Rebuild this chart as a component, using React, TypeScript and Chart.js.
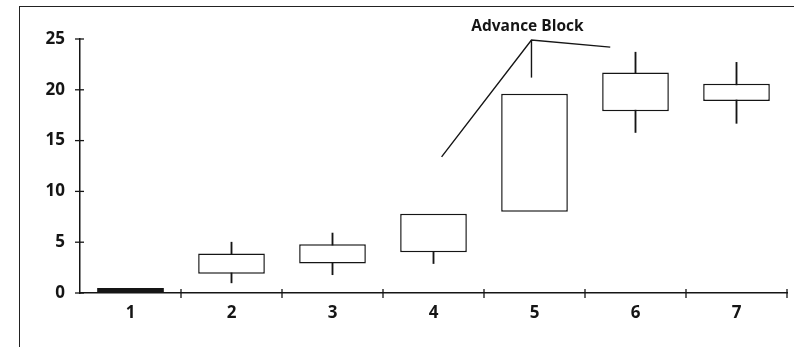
import React, { useEffect, useRef } from "react";
import { Chart, registerables } from "chart.js";

Chart.register(...registerables);

const categories = ["1", "2", "3", "4", "5", "6", "7"];
const boxLow = [0, 1.9, 2.9, 4.0, 8.0, 17.9, 18.9];
const boxHigh = [0, 3.9, 4.8, 7.8, 19.6, 21.7, 20.6];
const whiskerLow: (number | null)[] = [null, 1.0, 1.8, 2.9, null, 15.8, 16.7];
const whiskerHigh: (number | null)[] = [null, 5.0, 5.9, 4.0, null, 23.7, 22.7];
const yTicks = [0, 5, 10, 15, 20, 25];

const annotationText = "Advance Block";
const annotationTextPos = { x: 3.93, y: 26.2 };
const annotationLineX = [3.08, 3.97, 4.75];
const annotationLineY = [13.4, 24.9, 24.2];
const pointerX = [3.97, 3.97];
const pointerY = [24.9, 21.2];

const INK = "#151515";
const FONT = "'Open Sans', 'DejaVu Sans', sans-serif";

const decorPlugin = {
  id: "decor",
  afterDraw(chart: any) {
    const ctx = chart.ctx;
    const xs = chart.scales.x;
    const ys = chart.scales.y;
    ctx.save();
    ctx.strokeStyle = INK;
    ctx.lineWidth = 1.3;
    const ax = xs.left;
    yTicks.forEach((v) => {
      const py = ys.getPixelForValue(v);
      ctx.beginPath();
      ctx.moveTo(ax - 5, py);
      ctx.lineTo(ax + 4, py);
      ctx.stroke();
    });
    const ay = ys.getPixelForValue(0);
    for (let i = 1; i <= categories.length; i++) {
      const px = xs.getPixelForValue(i - 0.5);
      ctx.beginPath();
      ctx.moveTo(px, ay - 4);
      ctx.lineTo(px, ay + 5);
      ctx.stroke();
    }
    ctx.lineWidth = 1.4;
    ctx.beginPath();
    annotationLineX.forEach((x, i) => {
      const px = xs.getPixelForValue(x);
      const py = ys.getPixelForValue(annotationLineY[i]);
      if (i === 0) ctx.moveTo(px, py);
      else ctx.lineTo(px, py);
    });
    ctx.stroke();
    ctx.beginPath();
    ctx.moveTo(xs.getPixelForValue(pointerX[0]), ys.getPixelForValue(pointerY[0]));
    ctx.lineTo(xs.getPixelForValue(pointerX[1]), ys.getPixelForValue(pointerY[1]));
    ctx.stroke();
    ctx.fillStyle = INK;
    ctx.font = `bold 15.5px ${FONT}`;
    ctx.textAlign = "center";
    ctx.textBaseline = "middle";
    ctx.fillText(
      annotationText,
      xs.getPixelForValue(annotationTextPos.x),
      ys.getPixelForValue(annotationTextPos.y)
    );
    ctx.restore();
  },
};

export default function App() {
  const canvasRef = useRef<HTMLCanvasElement>(null);

  useEffect(() => {
    if (!canvasRef.current) return;
    const chart = new Chart(canvasRef.current, {
      type: "bar",
      data: {
        labels: categories,
        datasets: [
          {
            label: "whiskers",
            data: whiskerLow.map((l, i) =>
              l === null || whiskerHigh[i] === null ? null : [l, whiskerHigh[i] as number]
            ) as any,
            backgroundColor: INK,
            borderWidth: 0,
            barThickness: 1.2,
            grouped: false,
            order: 2,
          } as any,
          {
            label: "boxes",
            data: boxLow.map((l, i) => [l, boxHigh[i]]) as any,
            backgroundColor: (c: any) =>
              boxLow[c.dataIndex] === boxHigh[c.dataIndex] ? INK : "#ffffff",
            borderColor: INK,
            borderWidth: (c: any) =>
              boxLow[c.dataIndex] === boxHigh[c.dataIndex] ? 0 : 1.5,
            borderSkipped: false,
            barPercentage: 0.66,
            categoryPercentage: 1,
            minBarLength: 5,
            grouped: false,
            clip: false,
            order: 1,
          } as any,
        ],
      },
      options: {
        animation: false,
        responsive: false,
        maintainAspectRatio: false,
        layout: { padding: { left: 0, right: 7, top: 39, bottom: 0 } },
        plugins: {
          legend: { display: false },
          tooltip: { enabled: false },
        },
        scales: {
          x: {
            offset: true,
            grid: { display: false, drawTicks: false },
            border: { display: true, color: INK, width: 1.5 },
            ticks: {
              color: INK,
              font: { family: FONT, size: 17, weight: "bold" as any },
              padding: 10,
              maxRotation: 0,
            },
            afterFit: (s: any) => {
              s.height = 54;
            },
          },
          y: {
            min: 0,
            max: 25,
            grid: { display: false, drawTicks: false },
            border: { display: true, color: INK, width: 1.5 },
            ticks: {
              stepSize: 5,
              color: INK,
              font: { family: FONT, size: 17, weight: "bold" as any },
              padding: 15,
            },
            afterFit: (s: any) => {
              s.width = 80;
            },
          },
        },
      },
      plugins: [decorPlugin],
    });
    return () => chart.destroy();
  }, []);

  return (
    <div style={{ position: "fixed", left: 0, top: 0, width: 794, height: 347, background: "#fff", overflow: "hidden" }}>
      <div
        style={{
          position: "absolute",
          left: 19,
          top: 6,
          width: 900,
          height: 500,
          borderTop: "1.5px solid #222",
          borderLeft: "1.5px solid #222",
        }}
      />
      <canvas
        ref={canvasRef}
        width={794}
        height={347}
        style={{ position: "absolute", left: 0, top: 0, width: 794, height: 347 }}
      />
    </div>
  );
}
